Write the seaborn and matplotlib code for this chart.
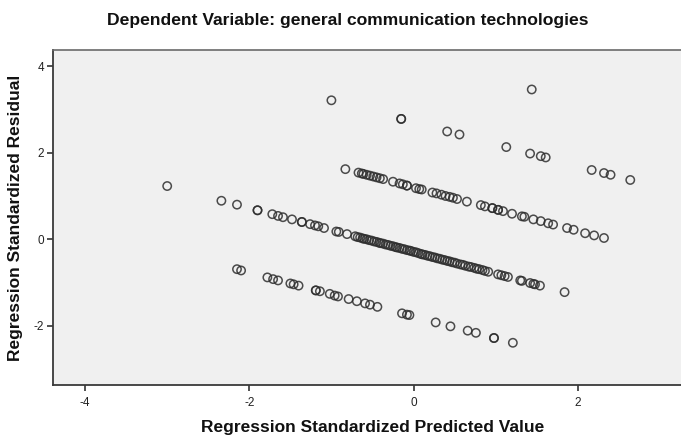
import matplotlib
matplotlib.use("Agg")
import matplotlib.pyplot as plt
import seaborn as sns
import pandas as pd

# Standardized predicted values / standardized residuals, one pair of lists per
# residual band (each band is one observed value of the dependent variable).
pred_band4 = [1.44]
resid_band4 = [3.46]

pred_band3 = [-1.00, -0.15, -0.15, 0.41, 0.56, 1.13, 1.42, 1.55, 1.61, 2.17, 2.32, 2.40, 2.64]
resid_band3 = [3.21, 2.78, 2.78, 2.49, 2.42, 2.13, 1.98, 1.92, 1.89, 1.60, 1.53, 1.49, 1.37]

pred_band2 = [-0.83, -0.67, -0.63, -0.61, -0.57, -0.53, -0.49, -0.45, -0.41, -0.37,
              -0.25, -0.17, -0.13, -0.08, -0.08, 0.03, 0.07, 0.10, 0.23, 0.28,
              0.34, 0.39, 0.44, 0.48, 0.53, 0.65, 0.82, 0.87, 0.96, 0.96,
              1.03, 1.03, 1.09, 1.20, 1.32, 1.35, 1.46, 1.55, 1.64, 1.70,
              1.87, 1.95, 2.09, 2.20, 2.32]
resid_band2 = [1.62, 1.54, 1.52, 1.51, 1.49, 1.47, 1.45, 1.43, 1.41, 1.39,
               1.33, 1.29, 1.27, 1.24, 1.24, 1.18, 1.16, 1.15, 1.08, 1.06,
               1.03, 1.00, 0.98, 0.96, 0.93, 0.87, 0.79, 0.76, 0.72, 0.72,
               0.68, 0.68, 0.65, 0.59, 0.53, 0.52, 0.46, 0.42, 0.37, 0.34,
               0.26, 0.22, 0.14, 0.09, 0.03]

pred_band1 = [-3.00, -2.34, -2.15, -1.90, -1.90, -1.72, -1.65, -1.59, -1.48, -1.36,
              -1.36, -1.26, -1.20, -1.16, -1.09, -0.94, -0.91, -0.81,
              -0.71, -0.68, -0.65, -0.62, -0.60, -0.57, -0.54, -0.51, -0.48, -0.45,
              -0.42, -0.40, -0.37, -0.34, -0.31, -0.28, -0.25, -0.22, -0.20, -0.17,
              -0.14, -0.11, -0.08, -0.05, -0.03, 0.00, 0.03, 0.06, 0.09, 0.11,
              0.14, 0.17, 0.20, 0.23, 0.26, 0.29, 0.32, 0.35, 0.38, 0.41,
              0.44, 0.47, 0.50, 0.53, 0.57, 0.60, 0.63, 0.67, 0.70, 0.74,
              0.77, 0.80, 0.84, 0.87, 0.91,
              1.03, 1.07, 1.11, 1.15, 1.30, 1.32, 1.42, 1.46, 1.48, 1.54, 1.84]
resid_band1 = [1.23, 0.89, 0.80, 0.67, 0.67, 0.58, 0.54, 0.51, 0.46, 0.40,
               0.40, 0.35, 0.32, 0.30, 0.26, 0.18, 0.17, 0.12,
               0.07, 0.05, 0.04, 0.02, 0.01, 0.00, -0.02, -0.03, -0.05, -0.06,
               -0.08, -0.09, -0.10, -0.12, -0.13, -0.15, -0.16, -0.18, -0.19, -0.20,
               -0.22, -0.23, -0.25, -0.26, -0.27, -0.29, -0.30, -0.32, -0.34, -0.35,
               -0.36, -0.38, -0.39, -0.41, -0.42, -0.44, -0.45, -0.47, -0.48, -0.50,
               -0.51, -0.53, -0.54, -0.56, -0.58, -0.59, -0.61, -0.63, -0.64, -0.66,
               -0.68, -0.69, -0.71, -0.73, -0.75,
               -0.81, -0.83, -0.85, -0.87, -0.95, -0.96, -1.01, -1.03, -1.04, -1.07, -1.22]

pred_band0 = [-2.15, -2.10, -1.78, -1.71, -1.65, -1.50, -1.46, -1.40, -1.19, -1.19,
              -1.14, -1.02, -0.96, -0.92, -0.79, -0.69, -0.59, -0.53, -0.44, -0.14,
              -0.08, -0.05, 0.27, 0.45, 0.66, 0.76, 0.98, 0.98, 1.21]
resid_band0 = [-0.69, -0.72, -0.88, -0.92, -0.95, -1.02, -1.04, -1.07, -1.18, -1.18,
               -1.20, -1.26, -1.30, -1.32, -1.38, -1.43, -1.48, -1.51, -1.56, -1.71,
               -1.74, -1.75, -1.92, -2.01, -2.11, -2.16, -2.28, -2.28, -2.39]

x_ticks = [-4, -2, 0, 2]
y_ticks = [-2, 0, 2, 4]

title = "Dependent Variable: general communication technologies"
x_label = "Regression Standardized Predicted Value"
y_label = "Regression Standardized Residual"

df = pd.DataFrame({
    "pred": pred_band4 + pred_band3 + pred_band2 + pred_band1 + pred_band0,
    "resid": resid_band4 + resid_band3 + resid_band2 + resid_band1 + resid_band0,
})

sns.set_theme(style="white")
plt.rcParams["font.family"] = ["Liberation Sans", "DejaVu Sans"]

fig = plt.figure(figsize=(6.81, 4.40), dpi=100)
ax = fig.add_axes([0.0783, 0.125, 0.9217, 0.7614])
ax.set_facecolor("#f0f0f0")

sns.scatterplot(data=df, x="pred", y="resid", ax=ax, marker="o",
                facecolor="none", edgecolor="#2e2e2e", linewidth=1.1,
                s=36, alpha=0.85, legend=False)

ax.set_xlim(-4.387, 3.258)
ax.set_ylim(-3.365, 4.372)
ax.set_xticks(x_ticks)
ax.set_yticks(y_ticks)
ax.set_xticklabels([str(t) for t in x_ticks])
ax.set_yticklabels([str(t) for t in y_ticks])
ax.tick_params(axis="both", which="major", direction="out", length=4.5,
               width=1.2, color="#333333", labelsize=8.5, labelcolor="#222222",
               bottom=True, left=True)
ax.tick_params(axis="x", pad=4)
ax.tick_params(axis="y", pad=2)

for side in ("left", "bottom"):
    ax.spines[side].set_color("#3a3a3a")
    ax.spines[side].set_linewidth(1.3)
ax.spines["top"].set_color("#6a6a6a")
ax.spines["top"].set_linewidth(1.2)
ax.spines["right"].set_visible(False)

ax.set_xlabel(x_label, fontsize=12.5, fontweight="bold", color="#111111")
ax.xaxis.set_label_coords(0.508, -0.105)
ax.set_ylabel(y_label, fontsize=12.5, fontweight="bold", color="#111111", labelpad=8)
fig.text(0.51, 0.953, title, ha="center", va="center", fontsize=12.6,
         fontweight="bold", color="#111111")

fig.savefig("out.png", dpi=100, facecolor="white")
